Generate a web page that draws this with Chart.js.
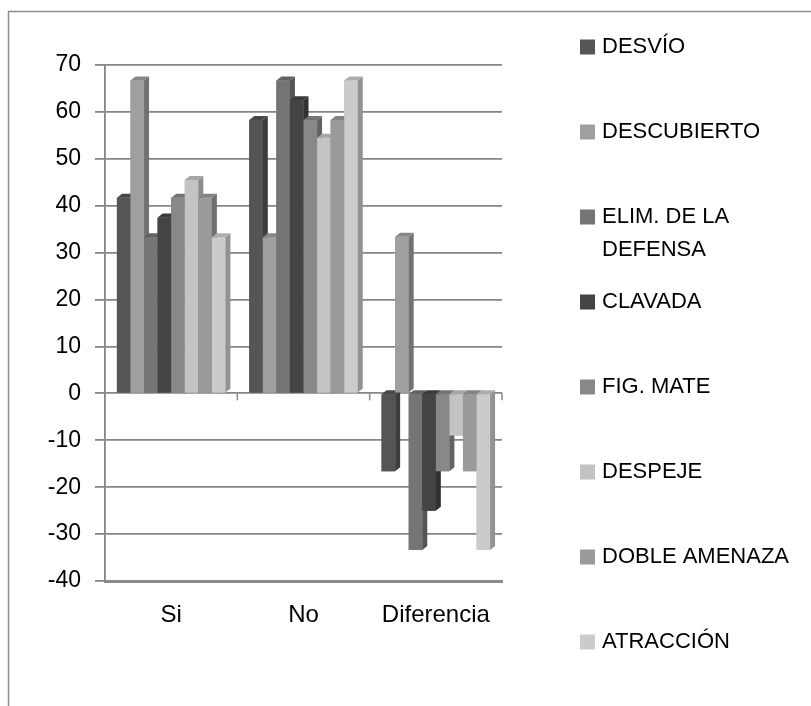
<!DOCTYPE html>
<html>
<head>
<meta charset="utf-8">
<script src="https://cdn.jsdelivr.net/npm/chart.js@4.4.1/dist/chart.umd.min.js"></script>
<style>
html, body { margin: 0; padding: 0; background: #fff; }
#wrap { width: 811px; height: 706px; position: relative; }
</style>
</head>
<body>
<div id="wrap"><canvas id="grafico"></canvas></div>
<script>
// Dados
const categorias = ['Si', 'No', 'Diferencia'];
const nomes = ['DESVÍO', 'DESCUBIERTO', 'ELIM. DE LA DEFENSA', 'CLAVADA', 'FIG. MATE', 'DESPEJE', 'DOBLE AMENAZA', 'ATRACCIÓN'];
const desvio       = [41.7, 58.3, -16.6];
const descubierto  = [66.7, 33.3, 33.4];
const elimDefensa  = [33.3, 66.7, -33.4];
const clavada      = [37.5, 62.5, -25];
const figMate      = [41.7, 58.3, -16.6];
const despeje      = [45.5, 54.5, -9];
const dobleAmenaza = [41.7, 58.3, -16.6];
const atraccion    = [33.3, 66.7, -33.4];
const yMin = -40, yMax = 70, yPasso = 10;

const series = [desvio, descubierto, elimDefensa, clavada, figMate, despeje, dobleAmenaza, atraccion];
const cores = ['#555555', '#9f9f9f', '#757575', '#444444', '#888888', '#c3c3c3', '#9a9a9a', '#cbcbcb'];
const fonte = "'Liberation Sans', Arial, sans-serif";

// escurece uma cor hex
function sombra(hex, f) {
    const n = parseInt(hex.slice(1), 16);
    const r = Math.round(((n >> 16) & 255) * f);
    const g = Math.round(((n >> 8) & 255) * f);
    const b = Math.round((n & 255) * f);
    return `rgb(${r},${g},${b})`;
}

// quebra o texto da legenda em linhas
function quebrar(ctx, texto, largura) {
    const palavras = texto.split(' ');
    const linhas = [];
    let atual = '';
    palavras.forEach(p => {
        const teste = atual ? atual + ' ' + p : p;
        if (atual && ctx.measureText(teste).width > largura) {
            linhas.push(atual);
            atual = p;
        } else {
            atual = teste;
        }
    });
    if (atual) linhas.push(atual);
    return linhas;
}

// Efeito 3D + moldura + legenda
const efeito3D = {
    id: 'efeito3D',
    beforeDraw(chart) {
        const ctx = chart.ctx;
        ctx.save();
        ctx.strokeStyle = '#8e8e8e';
        ctx.lineWidth = 1.5;
        ctx.strokeRect(8.5, 11.5, chart.width + 20, chart.height + 20);
        ctx.restore();
    },
    afterDatasetsDraw(chart) {
        const ctx = chart.ctx;
        const dx = 5, dy = 4;
        ctx.save();
        chart.data.datasets.forEach((ds, i) => {
            const meta = chart.getDatasetMeta(i);
            meta.data.forEach(bar => {
                bar.draw(ctx);
                const p = bar.getProps(['x', 'y', 'base', 'width'], true);
                const esq = p.x - p.width / 2, dir = p.x + p.width / 2;
                const topo = Math.min(p.y, p.base), fundo = Math.max(p.y, p.base);
                // lateral
                ctx.fillStyle = sombra(cores[i], 0.72);
                ctx.beginPath();
                ctx.moveTo(dir, topo);
                ctx.lineTo(dir + dx, topo - dy);
                ctx.lineTo(dir + dx, fundo - dy);
                ctx.lineTo(dir, fundo);
                ctx.closePath();
                ctx.fill();
                // tampa
                ctx.fillStyle = sombra(cores[i], 0.85);
                ctx.beginPath();
                ctx.moveTo(esq, topo);
                ctx.lineTo(esq + dx, topo - dy);
                ctx.lineTo(dir + dx, topo - dy);
                ctx.lineTo(dir, topo);
                ctx.closePath();
                ctx.fill();
            });
        });

        // marcas das categorias na linha do zero
        const x = chart.scales.x, y = chart.scales.y;
        const y0 = y.getPixelForValue(0);
        ctx.strokeStyle = '#8a8a8a';
        ctx.lineWidth = 1.5;
        for (let k = 0; k < categorias.length; k++) {
            const meio = x.getPixelForValue(k) + (x.getPixelForValue(1) - x.getPixelForValue(0)) / 2;
            ctx.beginPath();
            ctx.moveTo(meio, y0);
            ctx.lineTo(meio, y0 + 7);
            ctx.stroke();
        }
        ctx.restore();
    },
    afterDraw(chart) {
        const ctx = chart.ctx;
        ctx.save();
        ctx.font = '22px ' + fonte;
        ctx.textBaseline = 'middle';
        ctx.textAlign = 'left';
        const x0 = 580, yInicio = 47, passo = 85, altLinha = 33;
        nomes.forEach((nome, i) => {
            const yc = yInicio + i * passo;
            ctx.fillStyle = cores[i];
            ctx.fillRect(x0, yc - 7.5, 15, 15);
            ctx.fillStyle = '#000';
            quebrar(ctx, nome, 200).forEach((linha, j) => {
                ctx.fillText(linha, x0 + 22, yc + j * altLinha);
            });
        });
        ctx.restore();
    }
};

const ctx = document.getElementById('grafico').getContext('2d');
new Chart(ctx, {
    type: 'bar',
    data: {
        labels: categorias,
        datasets: series.map((dados, i) => ({
            label: nomes[i],
            data: dados,
            backgroundColor: cores[i],
            borderWidth: 0,
            categoryPercentage: 0.82,
            barPercentage: 1
        }))
    },
    options: {
        responsive: true,
        maintainAspectRatio: false,
        animation: false,
        layout: { padding: { top: 65, right: 309, left: 0, bottom: 0 } },
        plugins: {
            legend: { display: false },
            tooltip: { enabled: false }
        },
        scales: {
            x: {
                grid: { display: false, drawTicks: false },
                border: { display: true, color: '#8a8a8a', width: 3 },
                ticks: { color: '#000', padding: 20, font: { family: fonte, size: 24 } },
                afterFit: s => { s.height = 125; }
            },
            y: {
                min: yMin,
                max: yMax,
                grid: { color: '#868686', lineWidth: 1.8, tickLength: 10 },
                border: { display: true, color: '#868686', width: 1.8 },
                ticks: { stepSize: yPasso, color: '#000', padding: 14, font: { family: fonte, size: 23 } },
                afterFit: s => { s.width = 105; }
            }
        }
    },
    plugins: [efeito3D]
});
</script>
</body>
</html>
